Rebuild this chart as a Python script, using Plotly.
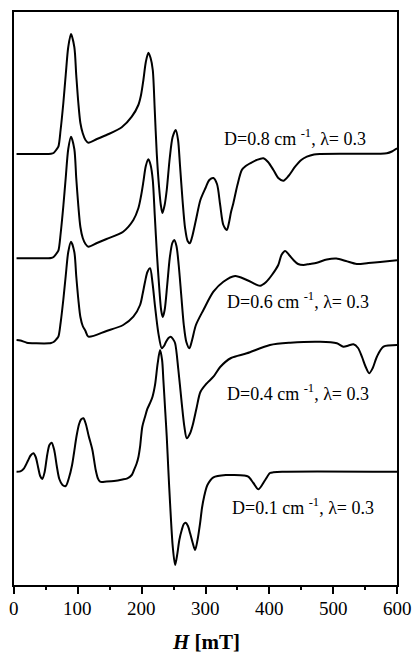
import plotly.graph_objects as go

# ---------------- data (field H in mT, relative intensity) ----------------
LABELS = ["D=0.8 cm <sup>-1</sup>, λ= 0.3",
          "D=0.6 cm <sup>-1</sup>, λ= 0.3",
          "D=0.4 cm <sup>-1</sup>, λ= 0.3",
          "D=0.1 cm <sup>-1</sup>, λ= 0.3"]

OFFSETS = [431, 326.7, 242, 113.3]

H1 = [4, 40, 58, 62, 66, 69.5, 73, 77.3, 81, 85, 89.3, 94.5, 97.5, 100.8, 104, 107.7, 112, 116.5, 130, 145,
      168.8, 184.5, 194.8, 199, 202.7, 206.5, 210.5, 214, 217.4, 220.5, 223.6, 227, 230, 232.5, 236, 239.3,
      244, 248.5, 253.4, 257, 260, 264, 268, 272, 275.5, 279, 285, 292, 300, 306, 312.4, 318, 323, 328,
      333.4, 337, 340, 343.7, 350, 356.9, 363, 369.9, 380, 390.8, 398, 406.4, 414, 422, 430, 440.4, 450,
      458.8, 470, 479.6, 530, 584, 592, 600]
I1 = [0, 0, 0.2, 1, 4, 7.3, 24, 51, 79, 107, 120, 107, 79, 51, 31, 20.7, 14, 11.3, 15, 19,
      26.7, 37.3, 49, 59, 74, 92, 101.3, 96, 84, 44, 1, -31, -51, -59, -51, -36,
      -4, 17, 24, 14, -11, -46, -74, -87, -89.3, -83, -66, -46, -34, -26, -24, -30, -51, -71,
      -76, -68, -58, -49, -31, -16, -12, -9.3, -6, -4.3, -8, -16, -24, -26.7, -22, -12.7, -6,
      -2.7, -0.5, 0, 0.2, 0.7, 2.5, 5.7]

H2 = [4, 40, 58, 62, 66, 69.5, 73, 77.3, 81, 85, 89.3, 94.5, 97.5, 100.8, 104, 107.7, 112, 116.5, 130, 145,
      171, 187, 194.8, 199, 202.7, 206.5, 210.5, 214, 217.4, 220.5, 224, 228, 230.5, 233, 236, 240, 244,
      248, 251, 254.5, 258, 262, 266, 270, 274.8, 279, 285, 296.7, 312.4, 328, 346.4, 364.7, 385.6, 395,
      404, 414, 419, 424.8, 431, 437.8, 445, 453.4, 463, 474.5, 490, 505, 520, 537, 555, 573.6, 600]
I2 = [0, 0, 0.3, 1.3, 4.3, 7.6, 24.3, 52.3, 80.3, 109.3, 121.6, 109.3, 80.3, 52.3, 31.3, 20.3, 14.3, 11.6,
      15.3, 19.3, 26.6, 38.3, 50, 62.3, 76.6, 92.3, 99, 93.3, 78.3, 43.3, 3.3, -33.7, -51.7, -58.7, -51.7,
      -26.7, 0.3, 15.3, 18.3, 12.3, -6.7, -36.7, -66.7, -83.7, -90, -81.7, -66.7, -51.7, -33.4, -23.4,
      -17.7, -21.7, -27.4, -23.7, -16.7, -6.7, 3.3, 7.3, 3.3, -1.7, -5.7, -6.7, -5.7, -4.4, -1.2, -0.2,
      -2.7, -5.7, -4.7, -3.7, -2]

H3 = [4, 10, 20, 35, 55, 58, 62, 66, 69.5, 73, 77.3, 81, 85, 89.3, 94.5, 97.5, 100.8, 104, 107.7, 112,
      116.5, 145, 171, 187, 197.5, 201.5, 205.3, 209, 213.2, 217, 221, 226.2, 231.5, 235, 238.2, 242,
      245.6, 249, 252.4, 257.5, 262.8, 266.9, 270.7, 275.9, 280, 286, 292, 302, 312.4, 323, 340, 364.7,
      401, 432.6, 479.6, 505.8, 516, 524, 531.8, 539, 545, 551, 556.4, 562, 568.5, 578.8, 600]
I3 = [3, 2.5, 0.3, -0.3, -0.3, 0, 1, 3.5, 6.3, 20, 43.5, 67, 91, 101.3, 91, 67, 43.5, 26, 17, 12,
      6.3, 12, 18, 26.3, 38, 49, 61.3, 71, 74.7, 60, 36.3, 9.7, -5.3, -3, 1.3, 5,
      6.3, 4, -0.3, -27, -60.3, -83.7, -95.3, -90.3, -82, -65, -49, -40.3, -33.7, -24, -15, -10.3,
      -2, 0.3, 1.3, -0.3, -3.7, -2.5, -1.3, -5, -13.7, -24, -30.3, -25, -13.7, -3.7, -2]

H4 = [4, 10, 15.7, 22, 26, 30.3, 34, 38, 41, 44.4, 48, 52, 55.5, 59, 63, 67, 71, 76, 81, 86, 91, 94, 98,
      102, 105, 108.7, 112.5, 117, 122.8, 128, 131.5, 134.8, 145, 156.7, 170, 177.6, 184.5, 188, 192, 195,
      197.5, 201, 205.3, 209, 213, 217, 221, 225, 228.8, 232, 234, 237, 239.3, 241.8, 244.5, 248.7, 252.4,
      256, 259, 262.8, 266, 269, 272.5, 275.9, 280, 283.7, 287.5, 291.5, 294.5, 297.8, 303, 312.4, 333.4,
      344, 360, 367, 375, 383, 393.5, 401, 406.4, 420, 600]
I4 = [0, 0.4, 3.4, 11.2, 16.2, 18.4, 14.7, 3.7, -4.3, -7.3, -0.3, 16.7, 26.7, 29, 21.7, 5.7, -7.3, -13.3,
      -14.3, -6.3, 6.7, 18.7, 35.7, 47.7, 52.2, 53.4, 47.7, 35.7, 21.7, 1.7, -6.8, -10, -9.8, -9.3, -7.8,
      -6.6, -3.3, 1.7, 8, 15, 25, 45, 55, 63, 68.5, 75, 87, 108, 121.7, 111.7, 91.7, 59.7, 35, 1.7, -31.6,
      -75, -93.3, -81.6, -68.3, -58.3, -52.3, -51, -54.3, -61.6, -71.3, -78.3, -68.3, -51.6, -36.3, -25,
      -13.3, -5.6, -3.3, -3.3, -3.8, -5, -11.3, -17.6, -8.3, -1.3, -0.6, 0, 0]

SERIES = [(H1, I1), (H2, I2), (H3, I3), (H4, I4)]

# major ticks every 100 mT (labelled), minor ticks in between (unlabelled)
X_TICKS = [0, 100, 200, 300, 400, 500, 600]
X_TICK_LABELS = ["0", "100", "200", "300", "400", "500", "600"]
X_MINOR = [50, 150, 250, 350, 450, 550]

# ---------------- figure ----------------
fig = go.Figure()
for (h, inten), off in zip(SERIES, OFFSETS):
    fig.add_trace(go.Scatter(
        x=h, y=[v + off for v in inten], mode="lines",
        line=dict(color="black", width=2, shape="spline", smoothing=0.8),
        showlegend=False, hoverinfo="skip"))

SERIF = "Liberation Serif"

# curve labels (layout only): left x in mT, centre y in plot units
label_pos = [(326, 448), (330.5, 284.5), (330.5, 193), (338.5, 78.5)]
for text, (lx, ly) in zip(LABELS, label_pos):
    fig.add_annotation(x=lx, y=ly, xref="x", yref="y", text=text, showarrow=False,
                       xanchor="left", yanchor="middle",
                       font=dict(family=SERIF, size=18, color="black"))

# x tick labels as text placed under each major tick
for tv, tt in zip(X_TICKS, X_TICK_LABELS):
    fig.add_annotation(x=tv, y=-0.0405, xref="x", yref="paper", text=tt, showarrow=False,
                       xanchor="center", yanchor="middle",
                       font=dict(family=SERIF, size=19, color="black"))

fig.add_annotation(x=0.5, y=-0.1, xref="paper", yref="paper",
                   text="<b><i>H</i> [mT]</b>", showarrow=False,
                   xanchor="center", yanchor="middle",
                   font=dict(family=SERIF, size=21, color="black"))

# secondary x axis overlaying the first, used only to draw the short minor ticks
fig.add_trace(go.Scatter(x=[0, 600], y=[None, None], xaxis="x2", yaxis="y",
                         mode="lines", showlegend=False, hoverinfo="skip"))

fig.update_layout(
    width=414, height=654, autosize=False,
    font=dict(family=SERIF, size=18, color="black"),
    margin=dict(l=14, r=17, t=12, b=69, pad=0),
    paper_bgcolor="white", plot_bgcolor="white",
    xaxis=dict(range=[0, 600], tickmode="array", tickvals=X_TICKS, showticklabels=False,
               automargin=False,
               ticks="outside", ticklen=7, tickwidth=1.5, tickcolor="black",
               showline=True, linecolor="black", linewidth=1.5, mirror=True,
               showgrid=False, zeroline=False),
    xaxis2=dict(range=[0, 600], overlaying="x", side="bottom", anchor="y",
                tickmode="array", tickvals=X_MINOR, showticklabels=False,
                ticks="outside", ticklen=4, tickwidth=1.5, tickcolor="black",
                showline=False, showgrid=False, zeroline=False, automargin=False),
    yaxis=dict(range=[0, 573], showticklabels=False, ticks="", automargin=False,
               showline=True, linecolor="black", linewidth=1.5, mirror=True,
               showgrid=False, zeroline=False),
)

fig.write_html("out.html")
